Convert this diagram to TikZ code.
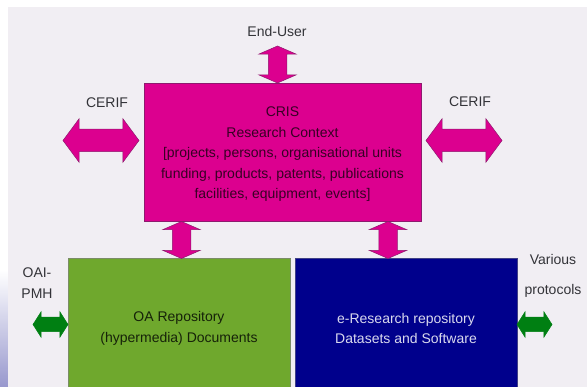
\documentclass[tikz,border=0pt]{standalone}
\usepackage{fontspec}
\setmainfont{Liberation Sans}
\usetikzlibrary{shapes.arrows,positioning}
\definecolor{bgc}{HTML}{F1EEF3}
\definecolor{mag}{HTML}{DC008F}
\definecolor{magline}{HTML}{8E1A6E}
\definecolor{grn}{HTML}{6FA82D}
\definecolor{blu}{HTML}{00008C}
\definecolor{dgr}{HTML}{007F12}
\definecolor{lab}{HTML}{333338}
\tikzset{
  x=1pt,y=-1pt,
  boxbase/.style={anchor=north west,inner sep=0pt,outer sep=0pt,align=center,font=\fontsize{14}{20.5}\selectfont},
  labeltext/.style={inner sep=0pt,text=lab,align=center,font=\fontsize{14}{20.5}\selectfont},
  dblbase/.style={double arrow,draw=magline,line width=.5pt,fill=mag,inner xsep=0pt,outer sep=0pt,double arrow head indent=0pt,anchor=center},
  vert/.style={dblbase,rotate=90,inner ysep=9pt,minimum height=37pt,minimum width=37pt,double arrow head extend=9.5pt,double arrow tip angle=133},
  horiz/.style={dblbase,inner ysep=11pt,minimum height=76pt,minimum width=43pt,double arrow head extend=10.5pt,double arrow tip angle=107},
  grnarrow/.style={dblbase,fill=dgr,draw=dgr,inner ysep=7pt,minimum height=35pt,minimum width=25pt,double arrow head extend=5.5pt,double arrow tip angle=115}
}
\begin{document}
\begin{tikzpicture}
\useasboundingbox (0,0) rectangle (587,387);
\fill[white] (0,0) rectangle (587,387);
\shade[top color=white,bottom color=blue!35!gray!60] (0,270) rectangle (8,387);
\fill[bgc] (8,7) rectangle (587,387);
\node[boxbase,draw=magline,line width=.6pt,fill=mag,text=black!75!mag,minimum width=277pt,minimum height=138pt] (cris) at (144,83)
  {\rule{0pt}{14pt}CRIS\\Research Context\\{}[projects, persons, organisational units\\funding, products, patents, publications\\facilities, equipment, events]};
\node[boxbase,draw=gray!70!grn,line width=.6pt,fill=grn,text=black!80!grn,minimum width=222pt,minimum height=141pt] (oa) at (68,258)
  {OA Repository\\(hypermedia) Documents};
\node[boxbase,draw=gray!50!blu,line width=.6pt,fill=blu,text=white!85!blu,minimum width=222pt,minimum height=141pt] (er) at (295,258)
  {e-Research repository\\Datasets and Software};
\node[labeltext] (user) at (277,31) {End-User};
\node[labeltext] (cerifl) at (107,103) {CERIF};
\node[labeltext] (cerifr) at (470,102) {CERIF};
\node[labeltext] (oai) at (37,283) {OAI-\\PMH};
\node[labeltext] (var) at (553,276) {Various\\[10pt]protocols};
\node[vert] (a1) at (277.5,64.5) {};
\node[horiz] (a2) at (101,140.5) {};
\node[horiz] (a3) at (464,140.5) {};
\node[vert] (a4) at (181.5,240) {};
\node[vert] (a5) at (388,240) {};
\node[grnarrow] (a6) at (50.5,324.5) {};
\node[grnarrow] (a7) at (534.5,324.5) {};
\end{tikzpicture}
\end{document}
